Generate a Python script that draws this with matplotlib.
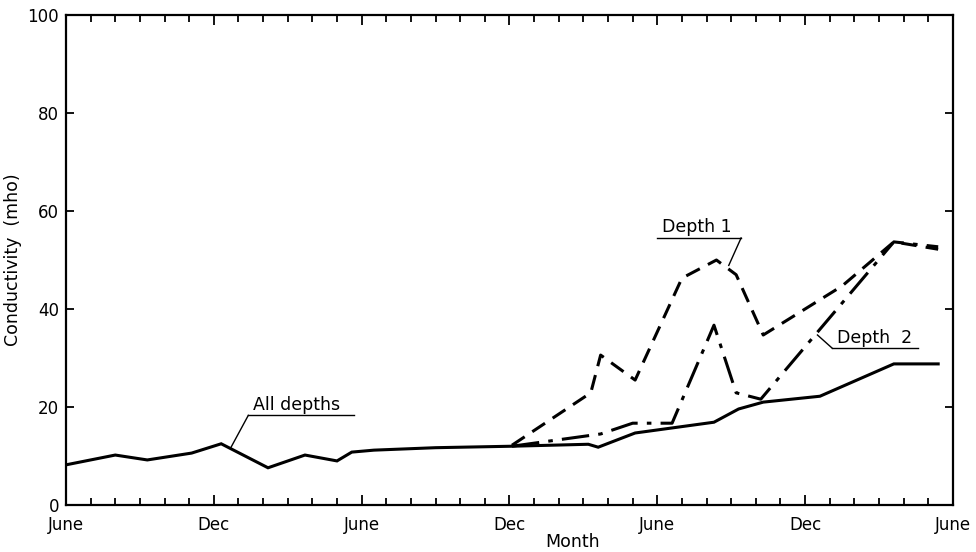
import numpy as np
import matplotlib.pyplot as plt
from matplotlib.ticker import MultipleLocator

# months counted from the first June (0) to the last June (36)
all_months = [0, 2, 3.3, 5.1, 6.3, 8.2, 9.7, 11.0, 11.6, 12.5, 15.0, 18.1, 21.2, 21.6,
              23.1, 26.3, 27.3, 28.3, 30.6, 33.6, 35.4]
all_vals = [8.2, 10.2, 9.2, 10.6, 12.5, 7.6, 10.2, 9.0, 10.8, 11.2, 11.7, 12.0, 12.4, 11.8,
            14.7, 16.9, 19.6, 21.0, 22.2, 28.8, 28.8]

d1_months = [18.1, 21.3, 21.7, 23.1, 25.0, 26.4, 27.2, 28.3, 31.5, 33.6, 35.4]
d1_vals = [12.2, 22.9, 30.6, 25.5, 46.3, 50.0, 47.0, 34.7, 44.7, 53.7, 52.2]

d2_months = [18.1, 21.7, 23.0, 24.6, 26.3, 27.2, 28.2, 33.6, 35.4]
d2_vals = [12.0, 14.5, 16.7, 16.7, 36.7, 22.9, 21.6, 53.7, 52.7]

tick_pos = [0, 6, 12, 18, 24, 30, 36]
tick_lab = ["June", "Dec", "June", "Dec", "June", "Dec", "June"]

# labels: text, text x, text y, underline end x, leader end (x, y), side of leader
labels = [
    ("All depths", 7.6, 18.6, 11.7, (6.7, 11.8), "left"),
    ("Depth 1", 24.2, 54.8, 27.4, (26.9, 48.9), "right"),
    ("Depth  2", 31.3, 32.3, 34.6, (30.5, 34.7), "left"),
]

fig = plt.figure(figsize=(9.76, 5.52), dpi=100)
ax = fig.add_axes([0.0676, 0.0851, 0.9088, 0.8877])

ax.plot(all_months, all_vals, color="black", lw=2.2, solid_joinstyle="miter")
ax.plot(d1_months, d1_vals, color="black", lw=2.2, dashes=(5, 3))
ax.plot(d2_months, d2_vals, color="black", lw=2.2, dashes=(9, 3, 1.5, 3))

for txt, tx, ty, ux, (lx, ly), side in labels:
    x0 = tx - 0.2
    ax.text(tx, ty, txt, fontsize=12.5, ha="left", va="bottom")
    ax.plot([x0, ux], [ty - 0.3, ty - 0.3], color="black", lw=1.0)
    start = x0 if side == "left" else ux
    ax.plot([start, lx], [ty - 0.3, ly], color="black", lw=1.0)

ax.set_xlim(0, 36)
ax.set_ylim(0, 100)
ax.set_xticks(tick_pos)
ax.set_xticklabels(tick_lab)
ax.xaxis.set_minor_locator(MultipleLocator(1))
ax.set_yticks([0, 20, 40, 60, 80, 100])
ax.tick_params(axis="both", which="major", direction="in", length=7, width=1.3,
               top=True, right=True, labelsize=12, pad=5)
ax.tick_params(axis="x", which="major", pad=8)
ax.tick_params(axis="x", which="minor", direction="in", length=5, width=1.3, top=True)
ax.tick_params(axis="y", which="major", length=6)
for s in ax.spines.values():
    s.set_linewidth(1.6)

ax.set_xlabel("Month", fontsize=12.5)
ax.xaxis.set_label_coords(0.571, -0.058)
ax.set_ylabel("Conductivity  (mho)", fontsize=12.5)
ax.yaxis.set_label_coords(-0.05, 0.5)

fig.savefig("out.png", dpi=100)
